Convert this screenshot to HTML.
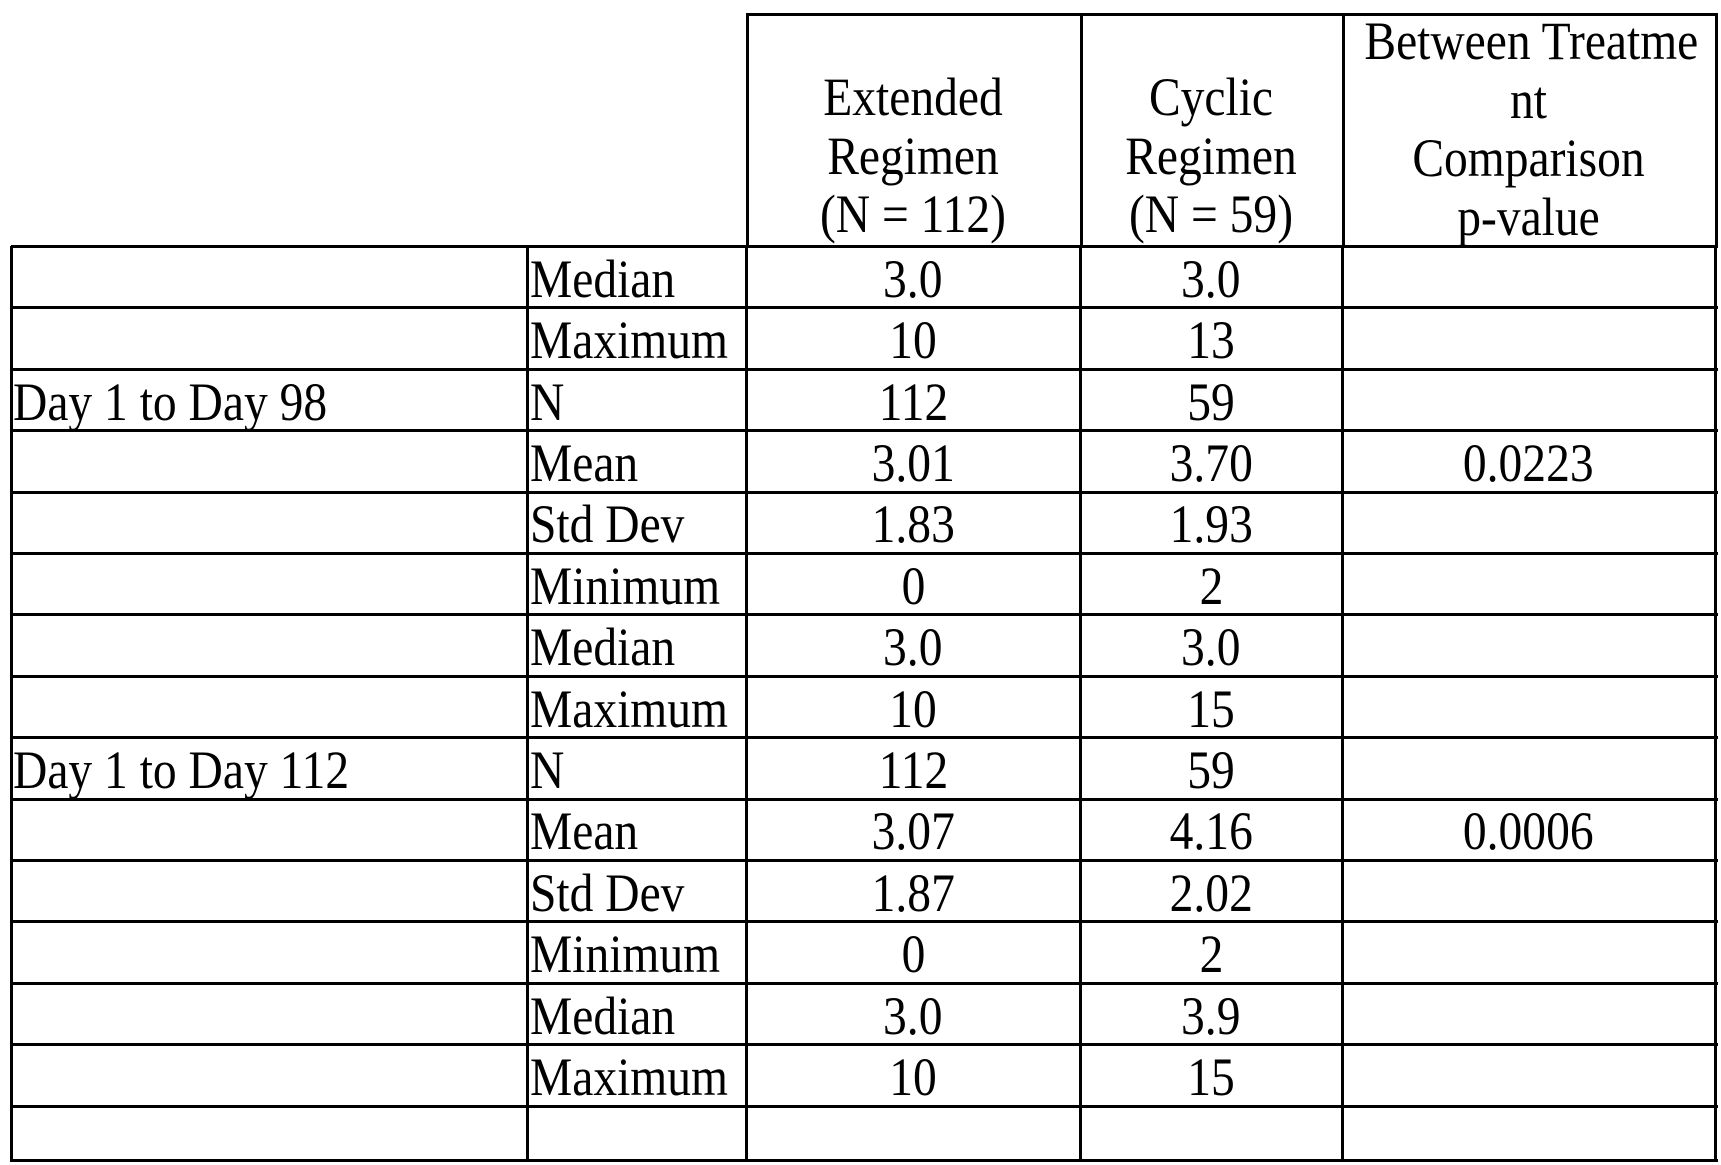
<!DOCTYPE html>
<html><head><meta charset="utf-8"><style>
html,body{margin:0;padding:0;background:#fff;}
#t{position:relative;width:1721px;height:1165px;overflow:hidden;font-family:"Liberation Serif",serif;color:#000;}
.h{position:absolute;height:3px;background:#000;}
.v{position:absolute;width:3px;background:#000;}
.c{position:absolute;display:flex;align-items:center;font-size:54px;white-space:nowrap;}
.c span{display:inline-block;transform:scaleX(0.88);}
.l span{transform-origin:left center;}
.m{justify-content:center;}
.m span{transform-origin:center;}
.hd{position:absolute;font-size:54px;line-height:58.5px;text-align:center;}
.hd span{display:block;transform:scaleX(0.88);white-space:nowrap;}
</style></head><body>
<div id="t">
<div class="hd" style="left:746px;width:334px;top:68px;"><span>Extended</span><span>Regimen</span><span>(N = 112)</span></div>
<div class="hd" style="left:1080px;width:262px;top:68px;"><span>Cyclic</span><span>Regimen</span><span>(N =  59)</span></div>
<div class="hd" style="left:1342px;width:373px;top:12px;"><span>Between Treatme</span><span>nt</span><span>Comparison</span><span>p-value</span></div>
</div>
<script>
const groups=["","","Day 1 to Day 98","","","","","","Day 1 to Day 112","","","","",""];
const stats=["Median","Maximum","N","Mean","Std Dev","Minimum","Median","Maximum","N","Mean","Std Dev","Minimum","Median","Maximum"];
const extended=["3.0","10","112","3.01","1.83","0","3.0","10","112","3.07","1.87","0","3.0","10"];
const cyclic=["3.0","13","59","3.70","1.93","2","3.0","15","59","4.16","2.02","2","3.9","15"];
const pvalues=["","","","0.0223","","","","","","0.0006","","","",""];
const T=document.getElementById('t');
const cols=[11,527,746,1080,1342,1715];
const top0=246, rh=61.4, bottom=1159;
function line(cls,x,y,w,h){const d=document.createElement('div');d.className=cls;d.style.left=x+'px';d.style.top=y+'px';
if(cls==='h')d.style.width=w+'px';else d.style.height=h+'px';


T.appendChild(d);}
line('h',746,13,972,0);
line('v',746,13,0,top0-13);line('v',1080,13,0,top0-13);line('v',1342,13,0,top0-13);line('v',1715,13,0,top0-13);
for(let i=0;i<=stats.length;i++){line('h',11,Math.round(top0+i*rh)-1,1707,0);}
line('h',11,bottom,1707,0);
cols.forEach(x=>line('v',x-1,top0,0,bottom-top0+3));
function cell(txt,x,w,y,align,name){const d=document.createElement('div');d.className='c '+align;
d.style.left=x+'px';d.style.width=w+'px';d.style.top=y+'px';d.style.height=rh+'px';


const s=document.createElement('span');s.textContent=txt;d.appendChild(s);T.appendChild(d);}
stats.forEach((s,i)=>{const y=top0+i*rh+2;
 if(groups[i])cell(groups[i],13,500,y,'l','period-label');
 cell(s,530,215,y,'l','stat-label');
 cell(extended[i],746,334,y,'m','extended-value');
 cell(cyclic[i],1080,262,y,'m','cyclic-value');
 if(pvalues[i])cell(pvalues[i],1342,373,y,'m','p-value');
});
</script>
</body></html>
